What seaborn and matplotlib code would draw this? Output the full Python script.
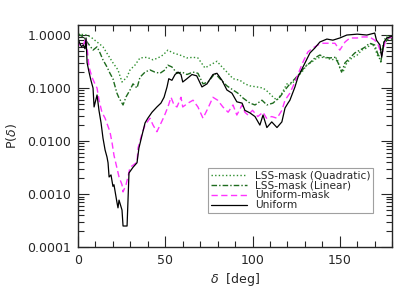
import numpy as np
import pandas as pd
import seaborn as sns
import matplotlib
matplotlib.use("Agg")
import matplotlib.pyplot as plt
from matplotlib.ticker import FuncFormatter, LogLocator, MultipleLocator, NullFormatter

# angle [deg] and P(delta)
uni_deg = [0, 1, 2, 3, 4, 4.6, 5.2, 6.3, 7.4, 8.6,
           9.2, 10.9, 12, 13.2, 14.3, 15.5, 16.6, 17.2, 17.8, 18.9,
           20, 20.6, 22.3, 22.9, 23.5, 25.2, 25.8, 28.1, 29.2, 31.5,
           33.8, 34.9, 36.7, 38.4, 40, 42.4, 45.2, 47.5, 49.3, 51,
           52, 53.8, 55.6, 57.3, 59, 60, 62.4, 65.3, 68, 71,
           73.9, 77.3, 79.6, 82.5, 85.3, 88.2, 91, 94, 95.6, 98.5,
           101.4, 104.2, 106, 108.2, 111, 114, 116.8, 118.6, 120.3, 121.4,
           124.3, 126, 128.9, 132.9, 135.7, 138.6, 142.6, 146, 150, 154,
           160, 165.5, 170, 171, 173, 174, 175.3, 177, 178.7, 180]
uni_p = [0.85, 0.7, 0.6, 0.65, 0.55, 0.88, 0.30, 0.20, 0.14, 0.10,
         0.044, 0.074, 0.038, 0.022, 0.0114, 0.0068, 0.005, 0.0039, 0.0021, 0.0023,
         0.0014, 0.0015, 0.0007, 0.00055, 0.00077, 0.0005, 0.00025, 0.00025, 0.0025, 0.0032,
         0.0039, 0.0074, 0.013, 0.022, 0.027, 0.035, 0.044, 0.052, 0.067, 0.105,
         0.15, 0.14, 0.18, 0.2, 0.18, 0.13, 0.15, 0.18, 0.17, 0.105,
         0.12, 0.18, 0.19, 0.14, 0.092, 0.08, 0.055, 0.052, 0.038, 0.034,
         0.029, 0.02, 0.031, 0.018, 0.023, 0.018, 0.023, 0.042, 0.052, 0.059,
         0.105, 0.16, 0.25, 0.46, 0.57, 0.74, 0.84, 0.8, 0.88, 1.0,
         1.04, 1.0, 1.09, 0.8, 0.65, 0.38, 0.74, 0.88, 0.92, 0.95]

umask_deg = [0, 1.5, 3, 4.6, 6.3, 8, 9.7, 10.9, 12, 13.7,
             15.5, 18.3, 19.5, 20.6, 22.3, 23.5, 25.2, 25.8, 27.5, 28.6,
             29.8, 31.5, 33.8, 34.4, 36.7, 38.4, 41.2, 43, 45.2, 47,
             49.3, 51.5, 53.3, 55, 56.7, 59, 60, 63, 65.9, 68.7,
             71.6, 74.5, 77.3, 80, 83, 86, 88.8, 91, 94, 95.6,
             97.4, 100, 103, 106, 108, 111, 114, 116.8, 118.6, 121.4,
             124.3, 126, 128.9, 131.7, 134.6, 137.5, 140.3, 144.3, 147.2, 150,
             153, 155.8, 160, 163, 167, 170, 172, 174, 176, 177.5,
             180]
umask_p = [0.8, 0.6, 0.65, 0.88, 0.25, 0.16, 0.12, 0.1, 0.06, 0.035,
           0.027, 0.015, 0.0093, 0.0054, 0.0031, 0.0021, 0.0015, 0.0011, 0.0015, 0.0021,
           0.0032, 0.0035, 0.004, 0.0074, 0.014, 0.02, 0.027, 0.02, 0.015, 0.02,
           0.029, 0.044, 0.067, 0.048, 0.044, 0.067, 0.044, 0.052, 0.059, 0.044,
           0.027, 0.042, 0.067, 0.059, 0.044, 0.035, 0.048, 0.031, 0.048, 0.035,
           0.031, 0.038, 0.029, 0.035, 0.027, 0.029, 0.027, 0.038, 0.059, 0.08,
           0.13, 0.18, 0.31, 0.48, 0.57, 0.65, 0.7, 0.7, 0.7, 0.52,
           0.74, 0.88, 0.88, 0.92, 0.92, 0.8, 0.65, 0.42, 0.74, 0.88,
           0.9]

lin_deg = [0, 3, 5.7, 8.6, 10.9, 12.6, 14.3, 16.6, 18.3, 20,
           22.3, 23.5, 25.2, 25.8, 27.5, 29.8, 31.5, 33.8, 35.5, 38.4,
           41.2, 44, 47, 49.8, 51.5, 53.8, 56.7, 59.6, 62.4, 65.9,
           68.7, 71.6, 74.5, 78.5, 81.3, 85.3, 88.8, 91.6, 94.5, 98.5,
           101.4, 105.4, 108.2, 111.7, 115.7, 118.6, 121.4, 124.3, 127, 130,
           132.9, 135.7, 138.6, 141.5, 144.3, 147.2, 149, 151, 153, 155.8,
           158.6, 161.5, 164.4, 167, 170, 172, 173.5, 175, 177, 178.7,
           180]
lin_p = [1.05, 0.92, 0.7, 0.52, 0.6, 0.46, 0.34, 0.25, 0.19, 0.15,
         0.08, 0.065, 0.052, 0.048, 0.068, 0.092, 0.12, 0.1, 0.16, 0.2,
         0.22, 0.2, 0.19, 0.22, 0.27, 0.25, 0.19, 0.2, 0.18, 0.2,
         0.19, 0.12, 0.13, 0.19, 0.15, 0.11, 0.092, 0.08, 0.065, 0.052,
         0.048, 0.059, 0.048, 0.052, 0.068, 0.092, 0.12, 0.15, 0.19, 0.25,
         0.3, 0.37, 0.42, 0.38, 0.37, 0.38, 0.3, 0.2, 0.3, 0.37,
         0.46, 0.52, 0.59, 0.7, 0.65, 0.42, 0.31, 0.65, 0.8, 0.92,
         0.85]

quad_deg = [0, 5, 8, 10.9, 14.3, 17.2, 20, 22.9, 25.2, 28,
            29.8, 32.6, 35.5, 39.5, 43, 45.8, 48.7, 51.5, 54.4, 58.4,
            62.4, 65.9, 68.7, 72.7, 75.6, 79.6, 82.5, 86, 88.8, 92.8,
            95.6, 98.5, 102.5, 106, 108.8, 111.7, 114, 116.8, 119.7, 122.6,
            125.4, 128.3, 131, 134, 136.9, 139.7, 142.6, 145.5, 148.3, 150,
            151.8, 154, 157, 160, 162.6, 165.5, 168.4, 170, 172, 174,
            176, 177.5, 180]
quad_p = [1.05, 1.0, 0.88, 0.74, 0.6, 0.42, 0.3, 0.22, 0.13, 0.16,
          0.22, 0.27, 0.37, 0.38, 0.34, 0.37, 0.42, 0.52, 0.46, 0.42,
          0.37, 0.38, 0.37, 0.24, 0.27, 0.32, 0.25, 0.19, 0.15, 0.14,
          0.12, 0.11, 0.105, 0.1, 0.085, 0.068, 0.059, 0.08, 0.12, 0.12,
          0.16, 0.2, 0.27, 0.31, 0.37, 0.38, 0.37, 0.34, 0.37, 0.24,
          0.2, 0.3, 0.37, 0.42, 0.52, 0.57, 0.7, 0.57, 0.38, 0.52,
          0.88, 1.0, 0.8]

sns.set_style("ticks")
plt.rcParams["font.family"] = ["DejaVu Sans"]

fig = plt.figure(figsize=(4.15, 2.97), dpi=100)
ax = fig.add_axes([0.188, 0.168, 0.757, 0.748])

sns.lineplot(x=quad_deg, y=quad_p, ax=ax, color="#2f8f2f", linestyle=(0, (1, 1.6)),
             linewidth=1.0, label="LSS-mask (Quadratic)")
sns.lineplot(x=lin_deg, y=lin_p, ax=ax, color="#1e6b1e", linestyle=(0, (4, 1.5, 1, 1.5)),
             linewidth=1.0, label="LSS-mask (Linear)")
sns.lineplot(x=umask_deg, y=umask_p, ax=ax, color="#ff33ff", linestyle=(0, (4.5, 2.5)),
             linewidth=1.0, label="Uniform-mask")
sns.lineplot(x=uni_deg, y=uni_p, ax=ax, color="black", linewidth=0.9, label="Uniform")

ax.set_yscale("log")
ax.set_xlim(0, 180)
ax.set_ylim(1e-4, 1.55)
ax.xaxis.set_major_locator(MultipleLocator(50))
ax.xaxis.set_minor_locator(MultipleLocator(10))
ax.yaxis.set_major_locator(LogLocator(base=10, numticks=10))
ax.yaxis.set_minor_locator(LogLocator(base=10, subs=np.arange(2, 10), numticks=10))
ax.yaxis.set_major_formatter(FuncFormatter(lambda v, pos: f"{v:.4f}"))
ax.yaxis.set_minor_formatter(NullFormatter())
ax.tick_params(which="both", direction="in", top=True, right=True, labelsize=9, width=0.8)
ax.tick_params(which="major", length=8, pad=5)
ax.tick_params(which="minor", length=4)
for s in ax.spines.values():
    s.set_linewidth(1.0)

ax.set_xlabel(r"$\delta$  [deg]", fontsize=9, labelpad=3)
ax.set_ylabel(r"P($\delta$)", fontsize=9, labelpad=6)

leg = ax.legend(loc="lower right", bbox_to_anchor=(0.94, 0.153), borderaxespad=0,
                fontsize=7.6, handlelength=3.4, handletextpad=0.8, labelspacing=0.0,
                borderpad=0.25, fancybox=False, frameon=True)
leg.get_frame().set_edgecolor("#888888")
leg.get_frame().set_linewidth(0.8)

fig.savefig("out.png", dpi=100)
